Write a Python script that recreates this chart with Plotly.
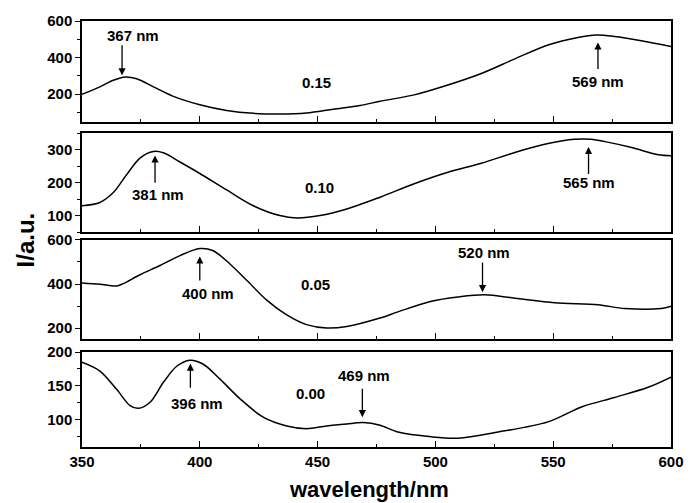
import plotly.graph_objects as go

# ---------------- data ----------------
wl_015 = [350, 357.6, 363.3, 368.3, 373.2, 380.3, 388.8, 400, 411.4, 422.7, 434, 445.3, 456.7, 468, 476.5,
          491, 505.3, 519.5, 533.7, 547.8, 560.5, 568.3, 576, 587.4, 600]
int_015 = [199, 240, 276, 294, 284, 240, 188, 142, 111, 95, 91, 97, 118, 138, 161,
           196, 250, 313, 393, 469, 510, 523, 515, 492, 461]

wl_010 = [350, 357.6, 363.3, 369, 374.6, 380.3, 384.5, 391.6, 400, 411.4, 422.7, 434, 441.1, 451, 462.4, 476.5,
          491, 505.3, 519.5, 533.7, 547.8, 559, 566, 572, 583.3, 594.6, 600]
int_010 = [130, 140, 170, 225, 275, 295, 291, 263, 228, 178, 130, 100, 93, 100, 120, 156,
           197, 232, 259, 292, 319, 332, 332, 325, 307, 285, 282]

wl_005 = [350, 357.6, 364.7, 367.5, 374.6, 383.1, 391.6, 400, 405.7, 412.8, 419.9, 428.4, 436.9, 445.3, 453.8,
          462.4, 476.5, 484.1, 498.3, 509.6, 520.9, 533.7, 550.6, 569, 580.3, 595.9, 600]
int_005 = [405, 399, 391, 402, 442, 484, 529, 561, 551, 491, 417, 327, 260, 216, 201,
           208, 246, 274, 322, 341, 351, 336, 315, 306, 289, 289, 299]

wl_000 = [350, 357.6, 364.7, 370.4, 373.9, 378.9, 384.5, 390.2, 395.8, 401.5, 408.6, 417.1, 426.9, 436.9, 445.3,
          453.8, 462.4, 469.4, 476.5, 484.1, 498.3, 509.6, 526.6, 547.8, 562, 576, 590.3, 600]
int_000 = [185, 172, 145, 121, 117, 126, 155, 179, 188, 182, 160, 131, 104, 91, 87,
           91, 94, 96, 92, 82, 75, 73, 82, 97, 119, 133, 148, 163]

panel_labels = ["0.15", "0.10", "0.05", "0.00"]
x_ticks = [350, 400, 450, 500, 550, 600]

# peak annotations: (panel, peak wl, label)
peaks = [
    (1, 367, "367 nm"), (1, 569, "569 nm"),
    (2, 381, "381 nm"), (2, 565, "565 nm"),
    (3, 400, "400 nm"), (3, 520, "520 nm"),
    (4, 396, "396 nm"), (4, 469, "469 nm"),
]

series = [(wl_015, int_015), (wl_010, int_010), (wl_005, int_005), (wl_000, int_000)]

# ---------------- layout helpers ----------------
FONT = "Liberation Sans, Arial, sans-serif"
W, H = 698, 503
ml, mr, mt, mb = 82, 27, 15, 56
plot_w = W - ml - mr
plot_h = H - mt - mb

def dom(top_px, bot_px):
    return [(H - mb - bot_px) / plot_h, (H - mb - top_px) / plot_h]

domains = [dom(15, 117), dom(129, 229), dom(237, 337.7), dom(350.7, 447)]
yranges = [[50, 600], [50, 350], [150, 600], [60, 200]]
ydticks = [200, 100, 200, 50]
yminor = [100, 50, 100, 25]

fig = go.Figure()
for i, (xs, ys) in enumerate(series, start=1):
    fig.add_trace(go.Scatter(
        x=xs, y=ys, mode="lines",
        line=dict(color="black", width=1.5, shape="spline", smoothing=0.9),
        xaxis=f"x{i}", yaxis=f"y{i}", showlegend=False, hoverinfo="skip"))

tickfont = dict(family=FONT, size=15, color="black", weight="bold")
layout = dict(
    width=W, height=H,
    margin=dict(l=ml, r=mr, t=mt, b=mb),
    paper_bgcolor="white", plot_bgcolor="white",
    showlegend=False,
)
for i in range(1, 5):
    xa = dict(
        range=[350, 600], anchor=f"y{i}", domain=[0, 1],
        showline=True, linecolor="black", linewidth=1.5, mirror=True,
        ticks="inside", ticklen=6, tickwidth=1.3, tickcolor="black",
        tickvals=x_ticks, showgrid=False, zeroline=False,
        minor=dict(ticks="inside", ticklen=3, tickwidth=1.2, tickcolor="black", dtick=25, tick0=350, showgrid=False),
        showticklabels=(i == 4), tickfont=tickfont,
    )
    if i > 1:
        xa["matches"] = "x"
    ya = dict(
        range=yranges[i - 1], anchor=f"x{i}", domain=domains[i - 1],
        showline=True, linecolor="black", linewidth=1.5, mirror=True,
        ticks="outside", ticklen=5, tickwidth=1.3, tickcolor="black",
        dtick=ydticks[i - 1], tick0=0, showgrid=False, zeroline=False,
        minor=dict(ticks="outside", ticklen=3, tickwidth=1.2, tickcolor="black", dtick=yminor[i - 1], tick0=0, showgrid=False),
        tickfont=tickfont,
    )
    key = "" if i == 1 else str(i)
    layout["xaxis" + key] = xa
    layout["yaxis" + key] = ya
fig.update_layout(**layout)

# panel-specific placement (layout positions, data units of each panel)
arrow_pos = {  # label: (tip_y, tail_y, text_x, text_y)
    "367 nm": (303, 476, 371.6, 522),
    "569 nm": (483, 330, 569, 270),
    "381 nm": (283, 195, 382.4, 163),
    "565 nm": (309, 222, 565, 202),
    "400 nm": (525, 409, 403.6, 358),
    "520 nm": (363, 505, 520.6, 542),
    "396 nm": (183, 145, 399, 124),
    "469 nm": (104, 148, 469.7, 166),
}
label_pos = [(449.6, 262), (451, 186), (448.9, 397), (446.8, 139)]

annfont = dict(family=FONT, size=15, color="black", weight="bold")
for panel, wl, lab in peaks:
    tip_y, tail_y, tx, ty = arrow_pos[lab]
    fig.add_annotation(x=wl, y=tip_y, ax=wl, ay=tail_y, xref=f"x{panel}", yref=f"y{panel}",
                       axref=f"x{panel}", ayref=f"y{panel}", text="", showarrow=True,
                       arrowhead=2, arrowsize=1.1, arrowwidth=1.3, arrowcolor="black")
    fig.add_annotation(x=tx, y=ty, xref=f"x{panel}", yref=f"y{panel}", text=lab,
                       showarrow=False, font=annfont)
for i, (lx, ly) in enumerate(label_pos, start=1):
    fig.add_annotation(x=lx, y=ly, xref=f"x{i}", yref=f"y{i}", text=panel_labels[i - 1],
                       showarrow=False, font=annfont)

# axis titles (pixel positions converted to paper coordinates of the plot area)
fig.add_annotation(x=(368.5 - ml) / plot_w, y=(H - 490 - mb) / plot_h, xref="paper", yref="paper",
                   xanchor="center", yanchor="middle",
                   text="wavelength/nm", showarrow=False,
                   font=dict(family=FONT, size=22, color="black", weight="bold"))
fig.add_annotation(x=(25 - ml) / plot_w, y=(H - 237.5 - mb) / plot_h, xref="paper", yref="paper",
                   xanchor="center", yanchor="middle", textangle=-90,
                   text="I/a.u.", showarrow=False,
                   font=dict(family=FONT, size=24, color="black", weight="bold"))

fig.write_html("out.html")
